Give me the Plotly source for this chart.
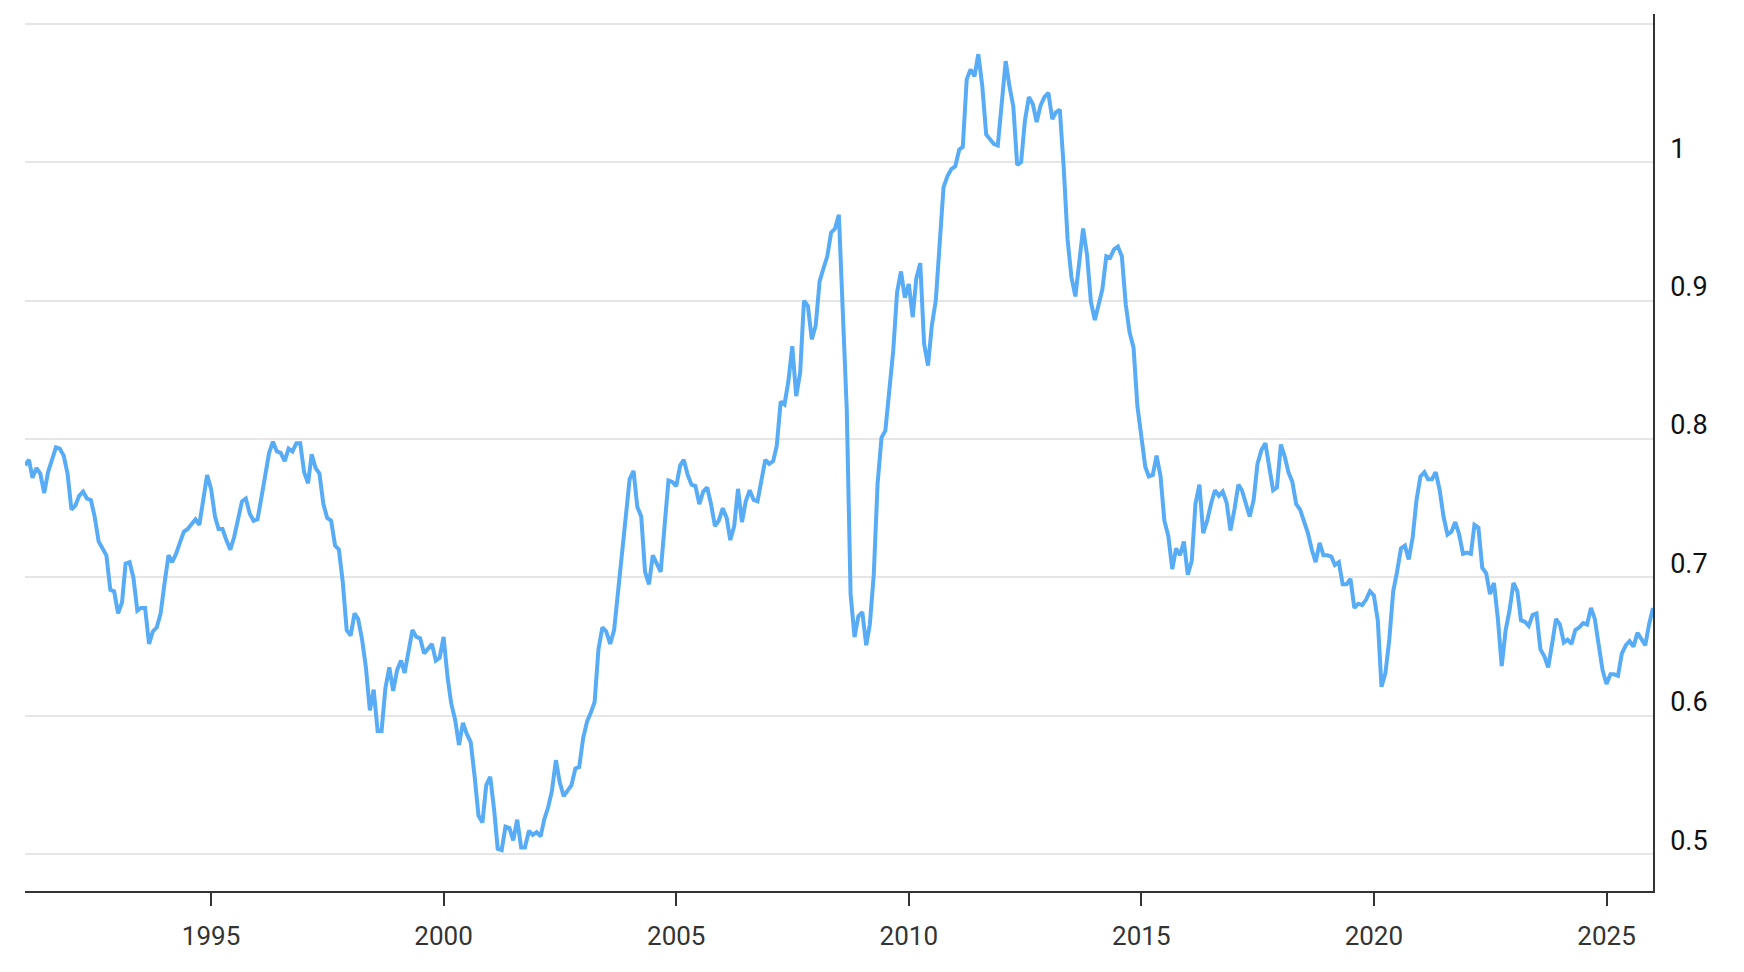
import pandas as pd
import plotly.graph_objects as go

# Monthly values (Jan 1991 .. Jan 2026)
v1991 = [0.781, 0.785, 0.772, 0.779, 0.775, 0.761, 0.776, 0.786, 0.794, 0.793, 0.788, 0.775]
v1992 = [0.749, 0.752, 0.759, 0.762, 0.757, 0.756, 0.744, 0.726, 0.721, 0.716, 0.691, 0.690]
v1993 = [0.674, 0.682, 0.710, 0.711, 0.700, 0.676, 0.678, 0.678, 0.652, 0.661, 0.664, 0.674]
v1994 = [0.696, 0.716, 0.711, 0.717, 0.725, 0.733, 0.735, 0.739, 0.742, 0.738, 0.758, 0.774]
v1995 = [0.764, 0.744, 0.735, 0.735, 0.727, 0.720, 0.729, 0.743, 0.755, 0.757, 0.746, 0.741]
v1996 = [0.742, 0.758, 0.775, 0.790, 0.798, 0.791, 0.790, 0.784, 0.793, 0.791, 0.797, 0.797]
v1997 = [0.776, 0.768, 0.789, 0.779, 0.775, 0.753, 0.743, 0.741, 0.723, 0.720, 0.696, 0.662]
v1998 = [0.658, 0.674, 0.670, 0.655, 0.635, 0.604, 0.619, 0.589, 0.589, 0.620, 0.635, 0.618]
v1999 = [0.633, 0.640, 0.631, 0.645, 0.662, 0.657, 0.656, 0.645, 0.649, 0.652, 0.640, 0.642]
v2000 = [0.657, 0.628, 0.609, 0.597, 0.579, 0.595, 0.587, 0.581, 0.556, 0.528, 0.523, 0.550]
v2001 = [0.556, 0.532, 0.504, 0.503, 0.520, 0.519, 0.510, 0.525, 0.505, 0.505, 0.517, 0.514]
v2002 = [0.516, 0.513, 0.525, 0.534, 0.546, 0.568, 0.552, 0.542, 0.546, 0.550, 0.562, 0.563]
v2003 = [0.584, 0.596, 0.602, 0.610, 0.648, 0.664, 0.661, 0.652, 0.662, 0.688, 0.716, 0.741]
v2004 = [0.771, 0.777, 0.751, 0.744, 0.704, 0.695, 0.716, 0.710, 0.704, 0.737, 0.770, 0.769]
v2005 = [0.766, 0.781, 0.785, 0.774, 0.767, 0.766, 0.753, 0.762, 0.765, 0.753, 0.737, 0.741]
v2006 = [0.750, 0.743, 0.727, 0.737, 0.764, 0.740, 0.755, 0.763, 0.756, 0.755, 0.772, 0.785]
v2007 = [0.782, 0.784, 0.795, 0.827, 0.825, 0.842, 0.867, 0.831, 0.848, 0.900, 0.896, 0.872]
v2008 = [0.882, 0.914, 0.923, 0.932, 0.949, 0.952, 0.962, 0.896, 0.821, 0.688, 0.657, 0.672]
v2009 = [0.675, 0.651, 0.666, 0.702, 0.768, 0.801, 0.806, 0.835, 0.864, 0.906, 0.921, 0.902]
v2010 = [0.912, 0.888, 0.916, 0.927, 0.869, 0.853, 0.882, 0.900, 0.947, 0.982, 0.990, 0.995]
v2011 = [0.997, 1.009, 1.011, 1.060, 1.067, 1.062, 1.078, 1.055, 1.020, 1.017, 1.013, 1.012]
v2012 = [1.045, 1.073, 1.055, 1.040, 0.998, 1.000, 1.030, 1.047, 1.042, 1.029, 1.041, 1.047]
v2013 = [1.050, 1.031, 1.036, 1.038, 0.997, 0.944, 0.917, 0.903, 0.928, 0.952, 0.933, 0.899]
v2014 = [0.886, 0.897, 0.908, 0.932, 0.931, 0.937, 0.939, 0.932, 0.897, 0.877, 0.866, 0.824]
v2015 = [0.803, 0.780, 0.773, 0.774, 0.788, 0.773, 0.741, 0.730, 0.706, 0.721, 0.716, 0.726]
v2016 = [0.702, 0.712, 0.753, 0.767, 0.732, 0.741, 0.753, 0.763, 0.759, 0.762, 0.754, 0.734]
v2017 = [0.749, 0.767, 0.763, 0.753, 0.744, 0.756, 0.782, 0.792, 0.797, 0.780, 0.763, 0.765]
v2018 = [0.796, 0.787, 0.776, 0.769, 0.753, 0.749, 0.741, 0.732, 0.720, 0.711, 0.725, 0.716]
v2019 = [0.716, 0.715, 0.709, 0.711, 0.695, 0.695, 0.699, 0.678, 0.681, 0.680, 0.684, 0.690]
v2020 = [0.687, 0.669, 0.621, 0.631, 0.655, 0.690, 0.704, 0.721, 0.723, 0.713, 0.729, 0.756]
v2021 = [0.773, 0.776, 0.771, 0.771, 0.776, 0.763, 0.744, 0.731, 0.733, 0.740, 0.731, 0.717]
v2022 = [0.718, 0.717, 0.738, 0.736, 0.707, 0.703, 0.688, 0.696, 0.670, 0.636, 0.662, 0.676]
v2023 = [0.696, 0.690, 0.669, 0.668, 0.665, 0.673, 0.674, 0.648, 0.643, 0.635, 0.652, 0.670]
v2024 = [0.666, 0.653, 0.655, 0.652, 0.662, 0.664, 0.667, 0.666, 0.678, 0.670, 0.651, 0.633]
v2025 = [0.623, 0.630, 0.630, 0.629, 0.645, 0.651, 0.654, 0.650, 0.660, 0.655, 0.651, 0.666]
v2026 = [0.678]

values = (v1991 + v1992 + v1993 + v1994 + v1995 + v1996 + v1997 + v1998 + v1999 + v2000
          + v2001 + v2002 + v2003 + v2004 + v2005 + v2006 + v2007 + v2008 + v2009 + v2010
          + v2011 + v2012 + v2013 + v2014 + v2015 + v2016 + v2017 + v2018 + v2019 + v2020
          + v2021 + v2022 + v2023 + v2024 + v2025 + v2026)
dates = pd.date_range("1991-01-01", periods=len(values), freq="MS")

x_tick_years = [1995, 2000, 2005, 2010, 2015, 2020, 2025]
y_tick_vals = [0.5, 0.6, 0.7, 0.8, 0.9, 1.0, 1.1]
y_tick_text = ["0.5", "0.6", "0.7", "0.8", "0.9", "1", ""]

fig = go.Figure(go.Scatter(
    x=dates, y=values, mode="lines",
    line=dict(color="#57acf5", width=4),
    hoverinfo="x+y",
))

# page body adds an 8px offset, so the figure is sized/margined to compensate
fig.update_layout(
    width=1736, height=964,
    margin=dict(l=17, r=91, t=6, b=81),
    paper_bgcolor="white", plot_bgcolor="white",
    showlegend=False,
    font=dict(family="Roboto", size=24, color="#333333"),
)

fig.update_xaxes(
    type="date",
    range=[dates[0], dates[-1]],
    tickvals=[pd.Timestamp(f"{y}-01-01") for y in x_tick_years],
    ticktext=[str(y) for y in x_tick_years],
    showgrid=False, zeroline=False,
    showline=True, linecolor="#333333", linewidth=1.5,
    ticks="outside", ticklen=13, tickwidth=1.5, tickcolor="#333333",
    ticklabelstandoff=8,
    tickfont=dict(family="Roboto", size=26, color="#333333"),
)

fig.update_yaxes(
    side="right",
    range=[0.4735, 1.107],
    tickvals=y_tick_vals, ticktext=y_tick_text,
    showgrid=True, gridcolor="#e6e6e6", gridwidth=1.5,
    zeroline=False,
    showline=True, linecolor="#333333", linewidth=1.5,
    ticks="",
    ticklabelstandoff=10, ticklabelshift=-14,
    tickfont=dict(family="Roboto", size=27, color="#111111"),
)

fig.write_html("out.html")
